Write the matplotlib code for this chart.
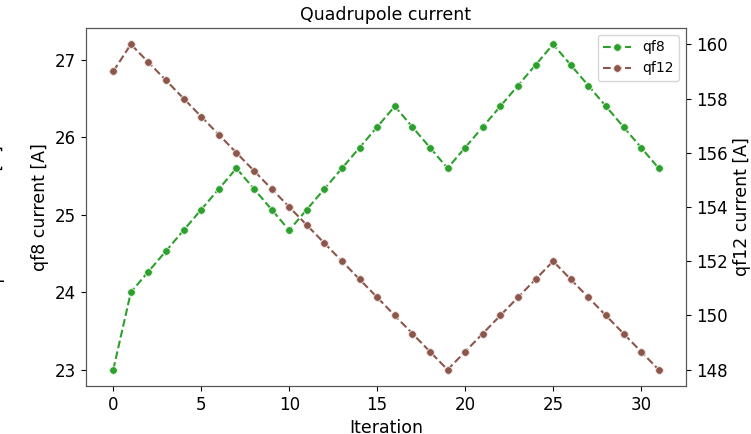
import matplotlib
matplotlib.use('Agg')
import matplotlib.pyplot as plt

iteration = list(range(32))
qf8 = [23.0, 24.0, 24.267, 24.533, 24.8, 25.067, 25.333, 25.6,
       25.333, 25.067, 24.8, 25.067, 25.333, 25.6, 25.867, 26.133,
       26.4, 26.133, 25.867, 25.6, 25.867, 26.133, 26.4, 26.667,
       26.933, 27.2, 26.933, 26.667, 26.4, 26.133, 25.867, 25.6]
qf12 = [159.0, 160.0, 159.333, 158.667, 158.0, 157.333, 156.667, 156.0,
        155.333, 154.667, 154.0, 153.333, 152.667, 152.0, 151.333, 150.667,
        150.0, 149.333, 148.667, 148.0, 148.667, 149.333, 150.0, 150.667,
        151.333, 152.0, 151.333, 150.667, 150.0, 149.333, 148.667, 148.0]

fig = plt.figure(figsize=(7.51, 4.34), dpi=100)
ax = fig.add_axes([0.1145, 0.1106, 0.7989, 0.8249])
ax2 = ax.twinx()

# — as duas séries —
l1, = ax.plot(iteration, qf8, '--o', color='tab:green', markersize=5.5,
              markeredgecolor='#e8f4e8', markeredgewidth=0.6, label='qf8')
l2, = ax2.plot(iteration, qf12, '--o', color='tab:brown', markersize=5.5,
               markeredgecolor='#f2e8e6', markeredgewidth=0.6, label='qf12')

ax.set_yticks([23, 24, 25, 26, 27])
ax2.set_yticks([148, 150, 152, 154, 156, 158, 160])
ax.set_xticks([0, 5, 10, 15, 20, 25, 30])
ax.tick_params(labelsize=12)
ax2.tick_params(labelsize=12)

ax.set_xlabel('Iteration', fontsize=12.5)
ax.set_ylabel('qf8 current [A]', fontsize=12.5)
ax2.set_ylabel('qf12 current [A]', fontsize=12.5)
ax.set_title('Quadrupole current', fontsize=12.5)

for a in (ax, ax2):
    for s in a.spines.values():
        s.set_edgecolor('#555555')

# rótulo de um terceiro eixo, cortado na borda da figura
fig.text(-4 / 751, 0.5, 'qd12 current [A]', rotation=90, ha='center',
         va='center', fontsize=12.5)

ax2.legend(handles=[l1, l2], loc='upper right', fontsize=10)

plt.savefig('out.png', dpi=100)
